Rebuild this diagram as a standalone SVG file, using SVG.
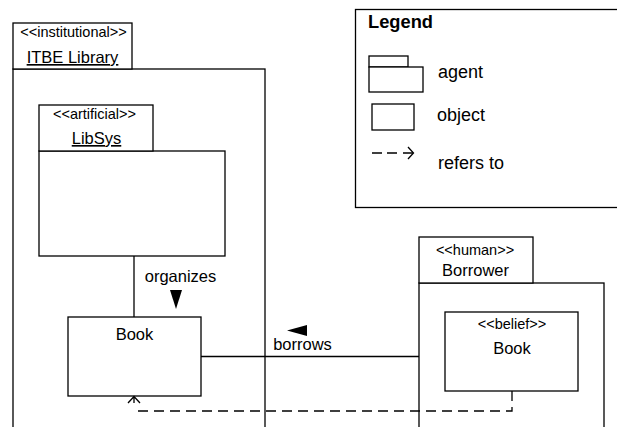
<svg xmlns="http://www.w3.org/2000/svg" width="617" height="427" viewBox="0 0 617 427">
<style>
.b{fill:#fff;stroke:#000;stroke-width:1.3}
.t{font-family:"Liberation Sans",Arial,sans-serif;fill:#000}
.s{font-size:14.5px}
.m{font-size:16.5px}
.g{font-size:18px}
.c{stroke:#000;stroke-width:1.3;fill:none}
.d{stroke:#000;stroke-width:1.3;fill:none;stroke-dasharray:10,6}
</style>
<rect width="617" height="427" fill="#fff"/>
<g id="legend">
<rect class="b" x="355.5" y="9.5" width="270" height="198"/>
<text class="t g" x="368" y="28" font-weight="bold" textLength="65" lengthAdjust="spacingAndGlyphs">Legend</text>
<rect class="b" x="369" y="56" width="39" height="11"/>
<rect class="b" x="369" y="67" width="54" height="25"/>
<text class="t g" x="438" y="78">agent</text>
<rect class="b" x="372" y="104" width="42" height="26"/>
<text class="t g" x="437" y="121">object</text>
<path class="c" d="M372,153 H382 M387,153 H397 M403,153 H413"/>
<path class="c" d="M408,147 L413.5,153 L408,159"/>
<text class="t g" x="438" y="169">refers to</text>
</g>
<g id="itbe">
<rect class="b" x="13" y="69" width="252" height="370"/>
<rect class="b" x="13" y="23" width="119" height="46"/>
<text class="t s" x="73.5" y="37" text-anchor="middle">&lt;&lt;institutional&gt;&gt;</text>
<text class="t m" x="72.5" y="63" text-anchor="middle" text-decoration="underline">ITBE Library</text>
</g>
<g id="libsys">
<rect class="b" x="39" y="151" width="186" height="105"/>
<rect class="b" x="39" y="105" width="114" height="46"/>
<text class="t s" x="94.5" y="119" text-anchor="middle">&lt;&lt;artificial&gt;&gt;</text>
<text class="t m" x="96.5" y="144" text-anchor="middle" text-decoration="underline">LibSys</text>
</g>
<g id="book">
<rect class="b" x="68" y="317" width="133" height="79"/>
<text class="t m" x="134.5" y="340" text-anchor="middle">Book</text>
</g>
<g id="borrower">
<rect class="b" x="419" y="283" width="185" height="156"/>
<rect class="b" x="419" y="237" width="114" height="46"/>
<text class="t s" x="475" y="255" text-anchor="middle">&lt;&lt;human&gt;&gt;</text>
<text class="t m" x="475.5" y="276" text-anchor="middle">Borrower</text>
</g>
<g id="beliefbook">
<rect class="b" x="445" y="312" width="133" height="79"/>
<text class="t s" x="512" y="329" text-anchor="middle">&lt;&lt;belief&gt;&gt;</text>
<text class="t m" x="512" y="354" text-anchor="middle">Book</text>
</g>
<g id="connectors">
<path class="c" d="M134,256 V317"/>
<text class="t m" x="180.5" y="282" text-anchor="middle">organizes</text>
<path d="M170,290 L182,290 L176,309 Z" fill="#000"/>
<path class="c" d="M201,356.5 H419"/>
<path d="M287,330.5 L307,325 L307,336 Z" fill="#000"/>
<text class="t m" x="302.5" y="350" text-anchor="middle">borrows</text>
<path class="d" d="M512,391 V411 H135"/>
<path class="c" d="M128,403 L134,396.5 L140,403 M134,397 V403"/>
</g>
</svg>
